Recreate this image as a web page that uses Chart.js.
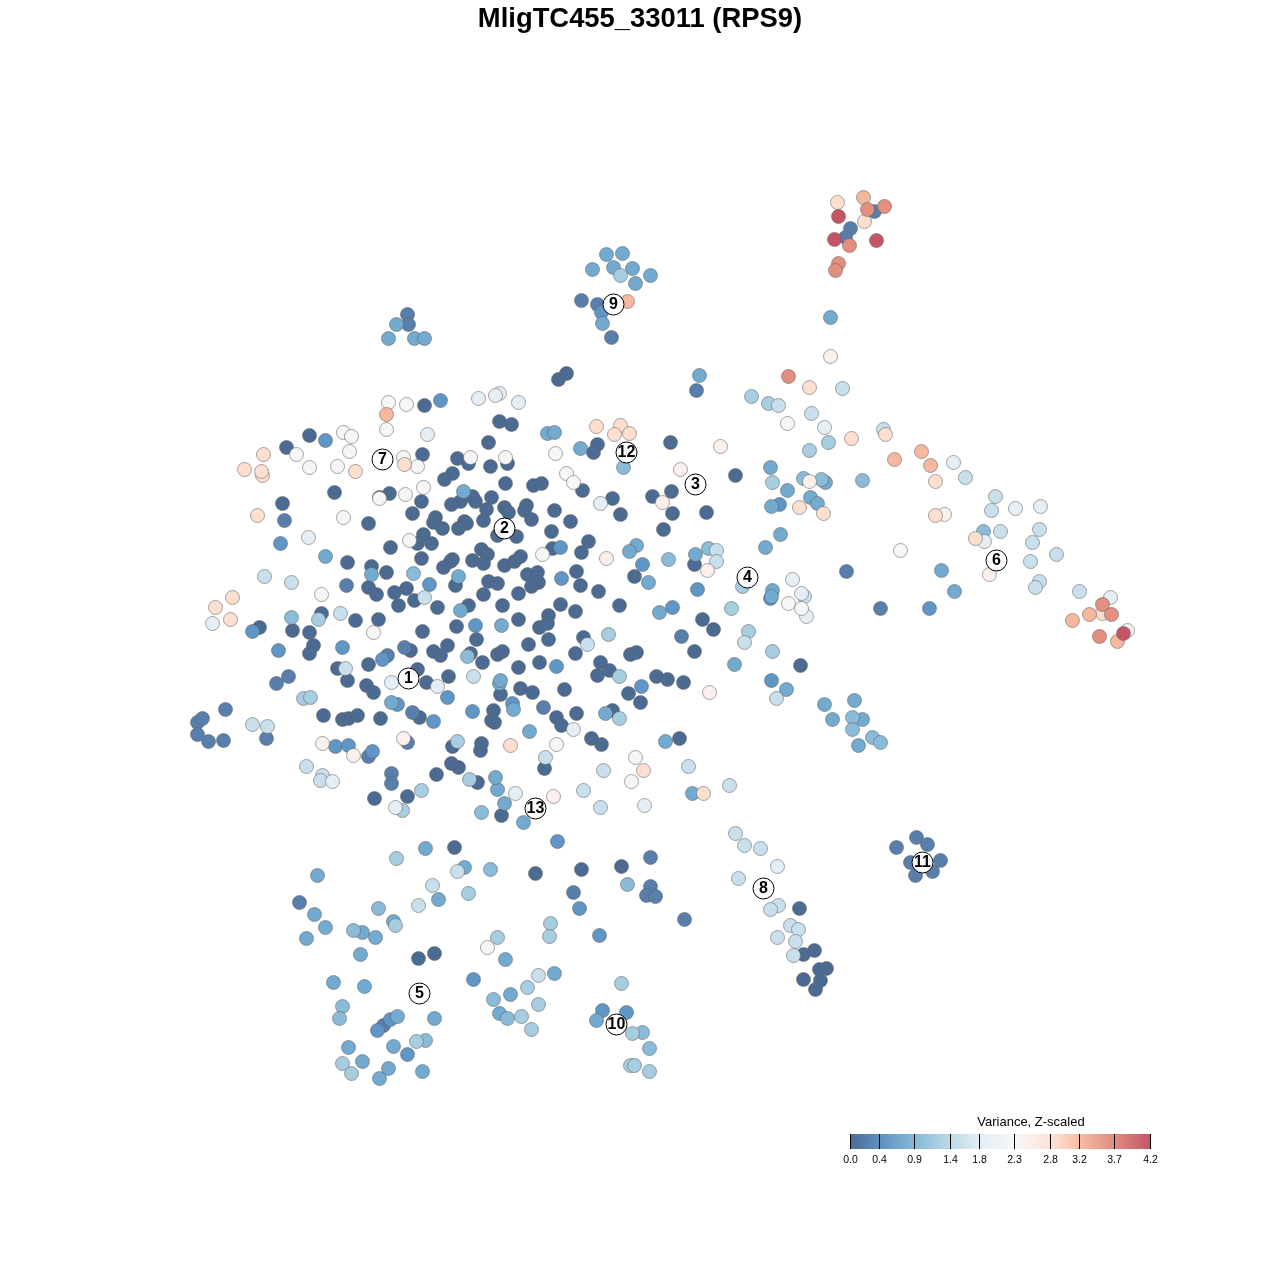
<!DOCTYPE html>
<html>
<head>
<meta charset="utf-8">
<title>MligTC455_33011 (RPS9)</title>
<script src="https://cdn.jsdelivr.net/npm/chart.js@4/dist/chart.umd.min.js"></script>
<style>
    html, body { margin: 0; background: #fff; }
    #wrap { position: relative; width: 1280px; height: 1280px; font-family: "Liberation Sans", Arial, sans-serif; overflow: hidden; }
    #chart { position: absolute; left: 0; top: 0; }
    #plotTitle { position: absolute; left: 0; width: 1280px; top: 3px; margin: 0; text-align: center; font-size: 27.4px; line-height: 30px; font-weight: bold; color: #000; }
    #legendTitle { position: absolute; left: 931px; width: 200px; top: 1115px; text-align: center; font-size: 13px; line-height: 14px; }
    #legendBar { position: absolute; left: 850px; top: 1134px; width: 301px; height: 15px; }
    .tick { position: absolute; top: 1134px; width: 1px; height: 15px; background: #000; }
    .tickLabel { position: absolute; top: 1153px; width: 41px; text-align: center; font-size: 10.5px; line-height: 12px; }
</style>
</head>
<body>
<div id="wrap">
    <canvas id="chart" width="1280" height="1280"></canvas>
    <h1 id="plotTitle"></h1>
    <div id="legendTitle"></div>
    <div id="legendBar"></div>
</div>
<script>
const plotTitle = 'MligTC455_33011 (RPS9)';
const legendTitle = 'Variance, Z-scaled';

// legend ticks
const legendTicks = ['0.0', '0.4', '0.9', '1.4', '1.8', '2.3', '2.8', '3.2', '3.7', '4.2'];
const legendTickX = [850, 879, 914, 950, 979, 1014, 1050, 1079, 1114, 1150];
const legendColors = ['#4b6b93', '#5e90c0', '#85b8d8', '#bcd9e8', '#e4edf4', '#f7f7f7', '#fde4d8', '#f6bda4', '#e08c7e', '#c25467'];

// one colour per expression level, low to high
const levelColors = ['#4b6b93', '#587fab', '#5f96c6', '#72aad0', '#8abbd9', '#a7cde1', '#c9e0ec', '#e6eef5', '#f6f6f6', '#fbf0eb', '#fddfcf', '#f5b89e', '#e38f80', '#c55465'];

const level0 = [[558,379],[566,373],[424,405],[499,421],[511,424],[309,435],[488,442],[286,447],[597,444],[593,452],[670,442],[422,454],[457,458],[468,463],[507,463],[490,466],[452,473],[444,479],[505,483],[533,485],[541,483],[582,490],[334,492],[389,493],[379,497],[421,501],[282,503],[460,501],[472,496],[451,504],[475,501],[491,497],[486,509],[504,507],[508,512],[526,505],[524,510],[531,519],[554,510],[570,521],[612,498],[620,514],[652,496],[671,491],[672,513],[706,512],[735,475],[663,529],[412,513],[368,523],[435,517],[433,522],[442,528],[464,521],[466,523],[458,528],[483,520],[497,535],[516,536],[551,531],[588,541],[581,552],[552,548],[423,534],[417,543],[431,543],[390,547],[421,558],[452,559],[450,561],[443,567],[481,549],[487,554],[472,560],[483,563],[504,565],[514,561],[520,556],[347,562],[371,566],[386,572],[368,587],[376,594],[394,592],[406,588],[398,605],[414,600],[437,607],[455,585],[488,581],[497,583],[483,594],[518,593],[527,574],[537,572],[538,582],[531,586],[576,571],[580,585],[598,591],[502,605],[468,605],[560,604],[575,611],[619,605],[634,576],[694,564],[378,619],[355,620],[321,613],[259,627],[292,630],[309,632],[313,645],[309,653],[422,631],[456,626],[476,639],[518,619],[548,615],[539,627],[547,623],[548,639],[528,644],[583,637],[575,653],[702,619],[713,629],[694,651],[630,654],[636,652],[600,662],[609,670],[597,675],[656,676],[667,679],[683,682],[410,650],[433,651],[440,655],[447,645],[470,653],[482,662],[497,654],[502,651],[368,664],[337,668],[417,669],[448,676],[518,667],[539,662],[347,680],[366,685],[373,692],[426,682],[628,693],[640,702],[500,694],[520,688],[532,692],[564,689],[493,710],[491,720],[494,722],[556,717],[561,725],[576,713],[612,710],[591,738],[601,744],[679,738],[480,750],[481,743],[477,782],[544,768],[501,815],[581,869],[621,866],[535,873],[380,718],[419,717],[323,715],[342,719],[348,718],[357,715],[452,746],[458,767],[451,763],[436,774],[407,796],[374,798],[454,847],[800,665],[799,908],[803,954],[814,950],[826,968],[819,969],[820,980],[803,979],[815,989],[418,958],[434,953]];
const level1 = [[284,520],[225,709],[197,722],[202,718],[197,734],[208,741],[223,740],[266,738],[288,676],[276,683],[412,712],[404,647],[387,655],[391,773],[391,783],[346,585],[543,707],[696,390],[681,636],[846,571],[880,608],[573,892],[650,857],[650,886],[646,895],[655,896],[684,919],[916,837],[927,844],[896,847],[940,860],[910,862],[932,871],[915,875],[407,314],[408,324],[581,300],[597,304],[611,337],[299,902],[383,1025],[874,211],[850,228],[845,237],[368,756],[407,742]];
const level2 = [[440,400],[325,440],[252,631],[278,650],[342,647],[382,659],[475,625],[280,543],[429,584],[561,578],[560,547],[642,564],[697,589],[672,607],[556,666],[771,680],[770,598],[779,504],[929,608],[447,697],[472,711],[512,703],[641,686],[335,746],[348,745],[372,751],[397,704],[433,721],[557,841],[579,908],[599,935],[602,1010],[626,1012],[473,979],[390,1019],[377,1030],[407,1054],[601,312]];
const level3 = [[325,556],[371,574],[458,576],[460,610],[463,491],[547,433],[554,432],[580,448],[636,545],[629,551],[648,582],[695,554],[765,547],[780,534],[659,612],[501,625],[734,664],[772,590],[771,596],[770,467],[771,506],[787,490],[825,482],[810,497],[817,503],[786,689],[824,704],[854,700],[832,719],[862,719],[858,745],[692,793],[699,375],[941,570],[954,591],[830,317],[499,683],[513,709],[529,731],[605,713],[665,741],[504,803],[497,789],[495,777],[523,822],[391,702],[500,680],[314,914],[306,938],[325,927],[362,932],[375,937],[393,921],[438,899],[360,954],[505,959],[333,982],[364,986],[434,1018],[397,1016],[348,1047],[393,1046],[362,1061],[388,1068],[379,1078],[422,1071],[510,994],[499,1013],[317,875],[425,848],[464,867],[554,973],[596,1020],[606,254],[622,253],[592,269],[613,267],[632,268],[650,275],[635,283],[602,323],[396,324],[388,338],[414,338],[424,338]];
const level4 = [[413,573],[291,617],[467,656],[623,467],[668,559],[708,548],[862,480],[852,717],[852,729],[872,737],[880,742],[481,812],[490,869],[353,930],[378,908],[342,1006],[339,1018],[425,1040],[493,999],[507,1018],[627,884],[642,1032],[649,1048],[983,531],[821,479],[803,478]];
const level5 = [[318,619],[608,634],[619,676],[731,608],[748,631],[772,651],[742,586],[751,396],[768,403],[828,442],[809,450],[772,482],[469,779],[619,718],[303,698],[310,697],[457,741],[421,790],[402,810],[396,858],[468,893],[395,925],[497,937],[550,923],[549,936],[416,1041],[342,1063],[351,1073],[527,987],[521,1016],[531,1029],[538,1004],[621,983],[632,1033],[630,1065],[634,1065],[649,1071],[620,275]];
const level6 = [[424,597],[587,644],[473,676],[744,642],[716,550],[716,561],[778,405],[842,388],[811,413],[883,429],[965,477],[776,698],[545,757],[688,766],[729,785],[735,833],[744,845],[760,848],[738,878],[778,905],[770,909],[790,925],[798,929],[777,937],[795,941],[793,955],[995,496],[991,510],[1039,529],[1032,542],[1056,554],[1030,561],[1039,581],[1035,587],[1000,531],[1079,591],[291,582],[264,576],[340,613],[345,668],[252,724],[267,726],[322,775],[320,780],[306,766],[583,790],[600,807],[603,770],[432,885],[457,871],[538,975],[418,905],[804,596]];
const level7 = [[427,434],[478,398],[499,393],[495,395],[518,402],[600,503],[792,579],[801,593],[806,616],[824,427],[953,462],[1015,508],[1040,506],[984,541],[1110,597],[777,866],[308,537],[212,623],[391,682],[437,686],[332,781],[395,807],[573,729],[644,805],[515,793]];
const level8 = [[388,402],[406,404],[386,429],[343,432],[351,436],[349,451],[296,454],[309,467],[337,466],[403,457],[417,466],[470,457],[423,487],[405,494],[379,498],[343,517],[409,540],[321,594],[373,632],[555,453],[505,457],[566,473],[573,482],[542,554],[787,423],[788,603],[801,608],[900,550],[556,744],[635,757],[631,781],[487,947]];
const level9 = [[830,356],[720,446],[680,469],[662,502],[606,558],[707,570],[809,481],[944,514],[989,574],[1127,630],[709,692],[322,743],[353,755],[403,738],[553,796]];
const level10 = [[263,454],[244,469],[262,475],[261,471],[355,471],[404,464],[257,515],[232,597],[215,607],[230,619],[596,426],[620,425],[614,434],[629,433],[809,387],[851,438],[885,434],[935,481],[799,507],[823,513],[935,515],[975,538],[510,745],[643,770],[703,793],[837,202],[864,221],[1102,613]];
const level11 = [[386,414],[894,459],[921,451],[930,465],[1089,614],[1072,620],[1117,641],[863,197],[627,301]];
const level12 = [[788,376],[1102,604],[1111,614],[1099,636],[867,209],[884,206],[849,245],[838,263],[835,270]];
const level13 = [[838,216],[834,239],[876,240],[1123,633]];
const levels = [level0, level1, level2, level3, level4, level5, level6, level7, level8, level9, level10, level11, level12, level13];

// numbered cluster badges
const clusterNames = ['1', '2', '3', '4', '5', '6', '7', '8', '9', '10', '11', '12', '13'];
const clusterX = [408, 504, 695, 747, 419, 996, 382, 763, 613, 616, 922, 626, 535];
const clusterY = [678, 528, 484, 577, 993, 560, 459, 888, 304, 1024, 862, 452, 808];

document.getElementById('plotTitle').innerText = plotTitle;
document.getElementById('legendTitle').innerText = legendTitle;
document.getElementById('legendBar').style.background =
    'linear-gradient(to right, ' + legendColors.map((c, i) => c + ' ' + (legendTickX[i] - 850) / 3 + '%').join(', ') + ')';

const wrap = document.getElementById('wrap');
legendTicks.forEach((label, i) => {
    const tick = document.createElement('div');
    tick.className = 'tick';
    tick.style.left = legendTickX[i] + 'px';
    wrap.appendChild(tick);
    const text = document.createElement('div');
    text.className = 'tickLabel';
    text.style.left = (legendTickX[i] - 20) + 'px';
    text.innerText = label;
    wrap.appendChild(text);
});

const datasets = levels.map((pts, i) => ({
    data: pts.map(p => ({ x: p[0], y: p[1] })),
    backgroundColor: levelColors[i],
    borderColor: 'rgba(95,95,95,0.55)',
    borderWidth: 1,
    pointRadius: 7,
    showLine: false,
    order: levels.length - i
}));

datasets.push({
    data: clusterNames.map((n, i) => ({ x: clusterX[i], y: clusterY[i] })),
    backgroundColor: 'rgba(255,255,255,0.92)',
    borderColor: '#000',
    borderWidth: 1,
    pointRadius: 10.5,
    showLine: false,
    order: 0
});

// draws the numbers on top of the badges
const clusterText = {
    id: 'clusterText',
    afterDatasetsDraw(chart) {
        const ctx = chart.ctx;
        ctx.save();
        ctx.font = 'bold 16px "Liberation Sans", Arial, sans-serif';
        ctx.fillStyle = '#000';
        ctx.textAlign = 'center';
        ctx.textBaseline = 'middle';
        clusterNames.forEach((n, i) => {
            ctx.fillText(n, chart.scales.x.getPixelForValue(clusterX[i]), chart.scales.y.getPixelForValue(clusterY[i]) + 0.5);
        });
        ctx.restore();
    }
};

new Chart(document.getElementById('chart').getContext('2d'), {
    type: 'scatter',
    data: { datasets: datasets },
    plugins: [clusterText],
    options: {
        responsive: false,
        animation: false,
        layout: { padding: 0, autoPadding: false },
        plugins: { legend: { display: false }, tooltip: { enabled: false }, title: { display: false } },
        scales: {
            x: { type: 'linear', min: -0.5, max: 1279.5, display: false },
            y: { type: 'linear', min: -0.5, max: 1279.5, reverse: true, display: false }
        }
    }
});
</script>
</body>
</html>
